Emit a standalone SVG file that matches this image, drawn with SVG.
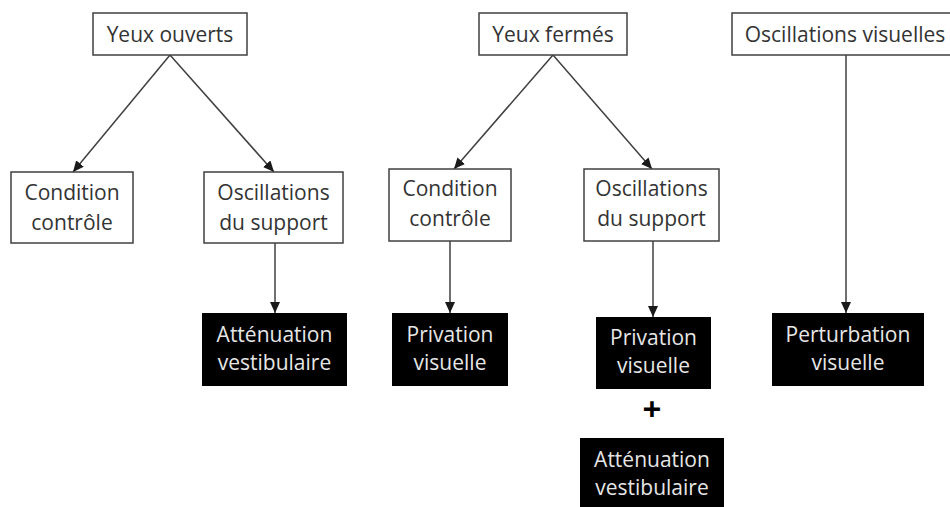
<svg xmlns="http://www.w3.org/2000/svg" width="950" height="507" viewBox="0 0 950 507">
<defs>
<style>
.w rect{fill:#fff;stroke:#404040;stroke-width:1.5}
.b rect{fill:#000;stroke:none}
text{font-family:"Open Sans","Liberation Sans",sans-serif;font-size:21px;text-anchor:middle}
.w text{fill:#333}
.b text{fill:#e6e6e6}
.c line{stroke:#404040;stroke-width:1.5;marker-end:url(#ah)}
</style>
<marker id="ah" markerUnits="userSpaceOnUse" markerWidth="12" markerHeight="10" refX="11" refY="5" orient="auto">
<path d="M0,0 L11,5 L0,10 Z" fill="#1a1a1a"/>
</marker>
</defs>
<rect width="950" height="507" fill="#fff"/>
<g class="c" id="connectors">
<line x1="170" y1="55" x2="73" y2="172"/>
<line x1="170" y1="55" x2="274" y2="172"/>
<line x1="275" y1="243" x2="275" y2="313"/>
<line x1="553" y1="55" x2="454" y2="169"/>
<line x1="553" y1="55" x2="652" y2="169"/>
<line x1="450" y1="241" x2="450" y2="313"/>
<line x1="653" y1="241" x2="653" y2="317"/>
<line x1="846" y1="55" x2="846" y2="313"/>
</g>
<g class="w" id="yeux-ouverts"><rect x="93" y="13" width="154" height="42"/><text x="170" y="42">Yeux ouverts</text></g>
<g class="w" id="cond-l"><rect x="11" y="172" width="122" height="71"/><text x="72" y="200">Condition</text><text x="72" y="230">contrôle</text></g>
<g class="w" id="osc-l"><rect x="204" y="172" width="139" height="71"/><text x="273.5" y="200">Oscillations</text><text x="273.5" y="230">du support</text></g>
<g class="b" id="att-l"><rect x="202" y="313" width="145" height="73"/><text x="274.5" y="342">Atténuation</text><text x="274.5" y="370">vestibulaire</text></g>
<g class="w" id="yeux-fermes"><rect x="479" y="13" width="148" height="42"/><text x="553" y="42">Yeux fermés</text></g>
<g class="w" id="cond-r"><rect x="389" y="169" width="122" height="72"/><text x="450" y="196">Condition</text><text x="450" y="226">contrôle</text></g>
<g class="w" id="osc-r"><rect x="584" y="169" width="135" height="72"/><text x="651.5" y="196">Oscillations</text><text x="651.5" y="226">du support</text></g>
<g class="b" id="priv-l"><rect x="392" y="313" width="116" height="73"/><text x="450" y="342">Privation</text><text x="450" y="370">visuelle</text></g>
<g class="b" id="priv-r"><rect x="596" y="317" width="115" height="72"/><text x="653.5" y="345">Privation</text><text x="653.5" y="373">visuelle</text></g>
<g id="plus"><text x="652" y="421" style="font-size:33px;font-weight:bold;fill:#000">+</text></g>
<g class="b" id="att-r"><rect x="580" y="438" width="144" height="72"/><text x="652" y="467">Atténuation</text><text x="652" y="495">vestibulaire</text></g>
<g class="w" id="osc-vis"><rect x="732" y="13" width="226" height="42"/><text x="845" y="42">Oscillations visuelles</text></g>
<g class="b" id="pert"><rect x="772" y="313" width="152" height="73"/><text x="848" y="342">Perturbation</text><text x="848" y="370">visuelle</text></g>
</svg>
